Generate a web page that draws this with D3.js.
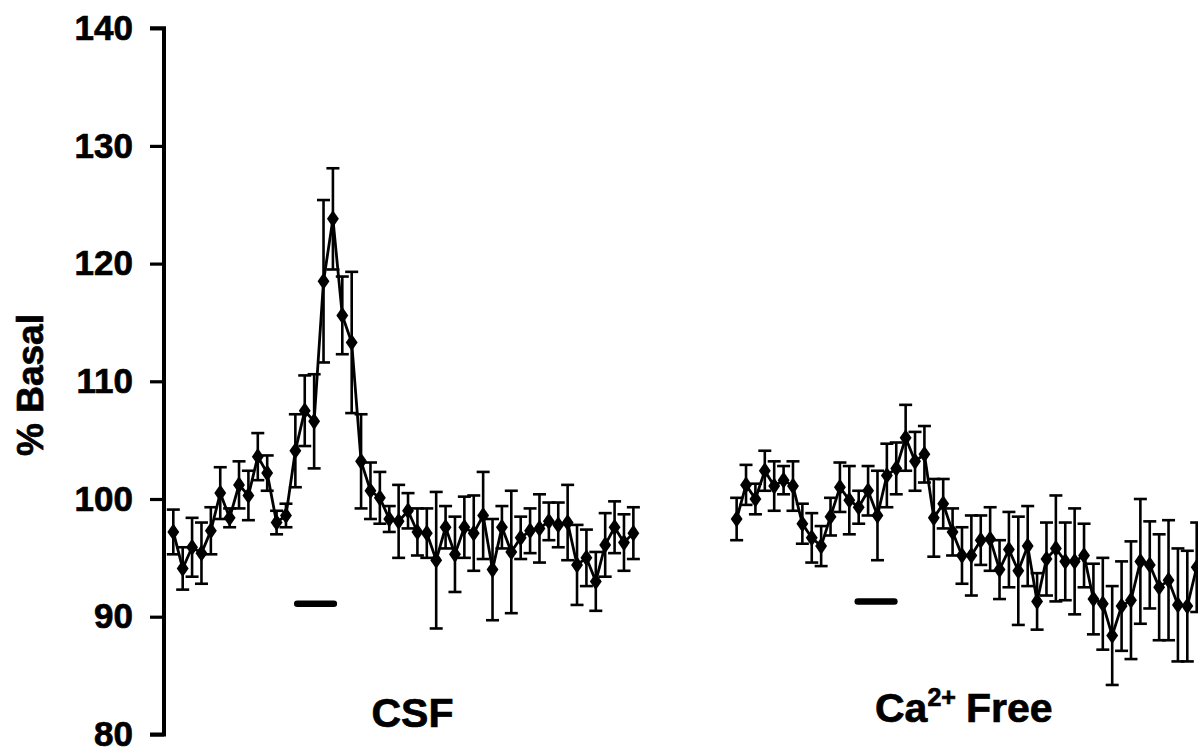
<!DOCTYPE html>
<html>
<head>
<meta charset="utf-8">
<script src="https://cdn.jsdelivr.net/npm/d3@7"></script>
<style>
  html, body { margin: 0; padding: 0; background: #fff; }
  svg { display: block; }
  text { font-family: "Liberation Sans", Arial, Helvetica, sans-serif; font-weight: bold; fill: #000; stroke: #000; stroke-width: 0.7px; }
</style>
</head>
<body>
<svg id="chart" width="1198" height="752"></svg>
<script>
// ---- Data ----
// Sample index (time) of each fraction; CSF run indices 0..49, Ca2+-free run indices 60..109
const csfIndex = d3.range(0, 50);
const csfMean = [97.2, 94.1, 95.9, 95.4, 97.3, 100.5, 98.4, 101.2, 100.3, 103.6,
                 102.2, 98.0, 98.6, 104.1, 107.5, 106.6, 118.5, 123.8, 115.6, 113.3,
                 103.2, 100.7, 100.1, 98.3, 98.1, 99.0, 97.2, 97.1, 94.8, 97.6,
                 95.3, 97.6, 97.1, 98.6, 94.0, 97.6, 95.5, 96.7, 97.3, 97.5,
                 98.1, 97.8, 98.0, 94.4, 95.0, 93.0, 96.1, 97.6, 96.3, 97.1];
const csfSem  = [1.9, 1.8, 2.5, 2.6, 2.0, 2.2, 0.8, 2.0, 2.1, 2.0,
                 1.5, 1.0, 1.0, 3.1, 3.0, 4.0, 6.9, 4.3, 3.3, 6.0,
                 4.0, 2.4, 2.2, 1.1, 3.1, 1.5, 2.0, 2.1, 5.8, 1.8,
                 3.2, 2.6, 3.2, 3.7, 4.3, 1.8, 5.2, 1.8, 1.9, 2.9,
                 1.6, 1.9, 3.2, 3.4, 2.4, 2.5, 2.7, 2.2, 2.4, 2.2];

const caIndex = d3.range(60, 110);
const caMean = [98.3, 101.2, 100.0, 102.4, 101.1, 101.6, 101.1, 97.9, 96.7, 96.0,
                98.5, 101.0, 99.9, 99.3, 100.7, 98.6, 102.0, 102.6, 105.2, 103.2,
                103.8, 98.4, 99.6, 97.2, 95.2, 95.2, 96.5, 96.6, 94.0, 95.7,
                93.9, 96.0, 91.3, 94.9, 95.8, 94.7, 94.7, 95.2, 91.5, 91.1,
                88.4, 90.9, 91.4, 94.7, 94.4, 92.5, 93.1, 91.0, 90.9, 94.2];
const caSem  = [1.8, 1.7, 1.3, 1.7, 2.1, 1.2, 2.1, 1.7, 2.1, 1.7,
                1.6, 2.1, 2.9, 1.4, 2.1, 3.8, 2.7, 2.2, 2.8, 2.5,
                2.4, 3.3, 2.1, 2.0, 2.4, 3.4, 2.1, 2.7, 2.5, 3.2,
                4.6, 3.4, 2.4, 3.1, 4.5, 3.3, 4.5, 2.7, 3.0, 3.9,
                4.2, 3.8, 5.0, 5.3, 3.7, 4.5, 5.1, 4.8, 4.7, 3.8];

// Stimulus bars (sample index start / end, level in % basal)
const stimStart = [13.2, 72.9];
const stimEnd   = [17.1, 76.8];
const stimLevel = [91.1, 91.3];

const yTicks = [80, 90, 100, 110, 120, 130, 140];
const yLabel = "% Basal";
const groupLabels = ["CSF", "Ca"];

// ---- Scales ----
const svg = d3.select("#chart");
const x = d3.scaleLinear().domain([0, 109]).range([173.3, 1196.7]);
const y = d3.scaleLinear().domain([80, 140]).range([734.4, 28.2]);

// ---- Y axis ----
const axisX = 164;
const yAxis = d3.axisLeft(y).tickValues(yTicks).tickSize(14).tickPadding(17).tickFormat(d3.format("d"));
const gAxis = svg.append("g").attr("transform", `translate(${axisX},0)`).call(yAxis);
gAxis.select(".domain").attr("stroke", "#000").attr("stroke-width", 4)
  .attr("d", `M-14,${y(140)}H0V${y(80)}H-14`);
gAxis.selectAll(".tick line").attr("stroke", "#000").attr("stroke-width", 3.2);
gAxis.selectAll(".tick text").style("font-size", "35px")
  .style("font-family", '"Liberation Sans", Arial, sans-serif').style("font-weight", "bold")
  .attr("fill", "#000").attr("stroke", "#000").attr("stroke-width", 0.8);

svg.append("text")
  .attr("transform", `translate(43,385) rotate(-90)`)
  .attr("text-anchor", "middle")
  .style("font-size", "37px")
  .text(yLabel);

// ---- Series ----
function drawSeries(idx, mean, sem) {
  const data = idx.map((d, i) => ({ i: d, m: mean[i], s: sem[i] }));
  const g = svg.append("g");
  // error bars
  const eb = g.selectAll(".eb").data(data).enter().append("g");
  eb.append("line").attr("x1", d => x(d.i)).attr("x2", d => x(d.i))
    .attr("y1", d => y(d.m + d.s)).attr("y2", d => y(d.m - d.s))
    .attr("stroke", "#000").attr("stroke-width", 2.6);
  [1, -1].forEach(sign => {
    eb.append("line").attr("x1", d => x(d.i) - 6.5).attr("x2", d => x(d.i) + 6.5)
      .attr("y1", d => y(d.m + sign * d.s)).attr("y2", d => y(d.m + sign * d.s))
      .attr("stroke", "#000").attr("stroke-width", 2.6);
  });
  // line
  g.append("path").datum(data)
    .attr("d", d3.line().x(d => x(d.i)).y(d => y(d.m)))
    .attr("fill", "none").attr("stroke", "#000").attr("stroke-width", 2.8);
  // diamonds
  const sym = d3.symbol().type(d3.symbolDiamond).size(85);
  g.selectAll(".pt").data(data).enter().append("path")
    .attr("d", sym)
    .attr("transform", d => `translate(${x(d.i)},${y(d.m)}) scale(1.2,1)`)
    .attr("fill", "#000");
}
drawSeries(csfIndex, csfMean, csfSem);
drawSeries(caIndex, caMean, caSem);

// ---- Stimulus bars ----
svg.selectAll(".stim").data(stimStart).enter().append("line")
  .attr("x1", (d, i) => x(stimStart[i])).attr("x2", (d, i) => x(stimEnd[i]))
  .attr("y1", (d, i) => y(stimLevel[i])).attr("y2", (d, i) => y(stimLevel[i]))
  .attr("stroke", "#000").attr("stroke-width", 6.5).attr("stroke-linecap", "round");

// ---- Group labels ----
svg.append("text").attr("x", 412.5).attr("y", 727).attr("text-anchor", "middle")
  .style("font-size", "41px").text(groupLabels[0]);

const ca = svg.append("text").attr("x", 875).attr("y", 722).style("font-size", "41px");
ca.append("tspan").text(groupLabels[1]);
ca.append("tspan").attr("dy", -16).style("font-size", "25px").text("2+");
ca.append("tspan").attr("dy", 16).attr("dx", 10).text("Free");
</script>
</body>
</html>
